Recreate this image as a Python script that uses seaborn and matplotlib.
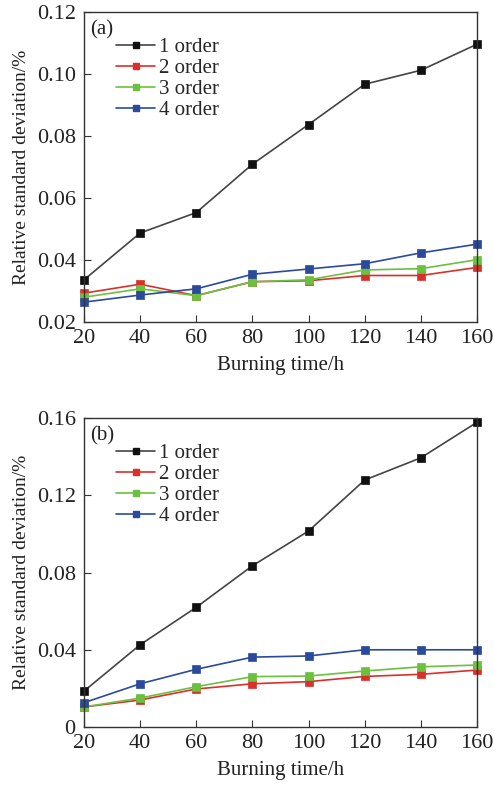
import numpy as np
import pandas as pd
import matplotlib
matplotlib.use("Agg")
import matplotlib.pyplot as plt
import seaborn as sns

hours = [20, 40, 60, 80, 100, 120, 140, 160]
series_names = ["1 order", "2 order", "3 order", "4 order"]

a_order1 = [0.0336, 0.0487, 0.0553, 0.0709, 0.0837, 0.0967, 0.1012, 0.1096]
a_order2 = [0.0293, 0.0322, 0.0285, 0.0330, 0.0333, 0.0350, 0.0350, 0.0376]
a_order3 = [0.0280, 0.0307, 0.0285, 0.0330, 0.0336, 0.0368, 0.0372, 0.0401]
a_order4 = [0.0264, 0.0287, 0.0307, 0.0354, 0.0371, 0.0388, 0.0423, 0.0451]

b_order1 = [0.0186, 0.0426, 0.0620, 0.0835, 0.1015, 0.1279, 0.1394, 0.1578]
b_order2 = [0.0104, 0.0140, 0.0197, 0.0224, 0.0235, 0.0262, 0.0273, 0.0295]
b_order3 = [0.0104, 0.0150, 0.0209, 0.0261, 0.0264, 0.0290, 0.0312, 0.0321]
b_order4 = [0.0126, 0.0224, 0.0299, 0.0362, 0.0368, 0.0400, 0.0400, 0.0400]

a_yticks = [0.02, 0.04, 0.06, 0.08, 0.10, 0.12]
a_yticklabels = ["0.02", "0.04", "0.06", "0.08", "0.10", "0.12"]
b_yticks = [0, 0.04, 0.08, 0.12, 0.16]
b_yticklabels = ["0", "0.04", "0.08", "0.12", "0.16"]
xticks = hours

colors = ["#111111", "#d9302c", "#6cc040", "#2b4a9c"]
line_colors = ["#444444", "#d9302c", "#6cc040", "#2b4a9c"]

sns.set_style("ticks")
plt.rcParams["font.family"] = ["Liberation Serif", "DejaVu Serif"]


def make_df(vals):
    rows = []
    for name, v in zip(series_names, vals):
        for h, y in zip(hours, v):
            rows.append({"time": h, "value": y, "series": name})
    return pd.DataFrame(rows)


fig = plt.figure(figsize=(4.94, 7.90), dpi=100)
ax_a = fig.add_axes([0.170, 0.5924, 0.7955, 0.3924])
ax_b = fig.add_axes([0.170, 0.0797, 0.7955, 0.3911])

panels = [
    (ax_a, make_df([a_order1, a_order2, a_order3, a_order4]), "(a)", (0.02, 0.12), a_yticks, a_yticklabels),
    (ax_b, make_df([b_order1, b_order2, b_order3, b_order4]), "(b)", (0.0, 0.16), b_yticks, b_yticklabels),
]

for ax, df, tag, ylim, yt, ytl in panels:
    sns.lineplot(data=df, x="time", y="value", hue="series", hue_order=series_names,
                 palette=line_colors, ax=ax, marker="s", markersize=5.2,
                 linewidth=1.2, markeredgewidth=0.5, legend=False, clip_on=False)
    for line, c in zip(ax.get_lines(), colors):
        line.set_markerfacecolor(c)
        line.set_markeredgecolor(c)
    ax.set_xlim(20, 160)
    ax.set_ylim(*ylim)
    ax.set_xticks(xticks)
    ax.set_xticklabels([str(t) for t in xticks], fontsize=16)
    ax.set_yticks(yt)
    ax.set_yticklabels(ytl, fontsize=16)
    ax.tick_params(axis="x", direction="in", length=5, width=0.8, colors="#333333",
                   labelcolor="#222222", pad=5)
    ax.tick_params(axis="y", direction="in", length=5, width=0.8, colors="#333333",
                   labelcolor="#222222", pad=6)
    for s in ax.spines.values():
        s.set_linewidth(1.0)
        s.set_color("#333333")
    ax.set_xlabel("Burning time/h", fontsize=15, color="#222222", labelpad=6)
    ax.set_ylabel("Relative standard deviation/%", fontsize=14, color="#222222", labelpad=5)
    ax.text(0.015, 0.975, tag, transform=ax.transAxes, fontsize=15, va="top", ha="left", color="#222222")
    handles = [plt.Line2D([], [], color=lc, marker="s", markersize=5, markerfacecolor=c,
                          markeredgecolor=c, linewidth=1.2) for lc, c in zip(line_colors, colors)]
    ax.legend(handles, series_names, loc="upper left", bbox_to_anchor=(0.06, 0.945), frameon=False,
              fontsize=15, handlelength=1.9, handletextpad=0.15, labelspacing=0.07, borderaxespad=0)

fig.savefig("out.png", dpi=100)
